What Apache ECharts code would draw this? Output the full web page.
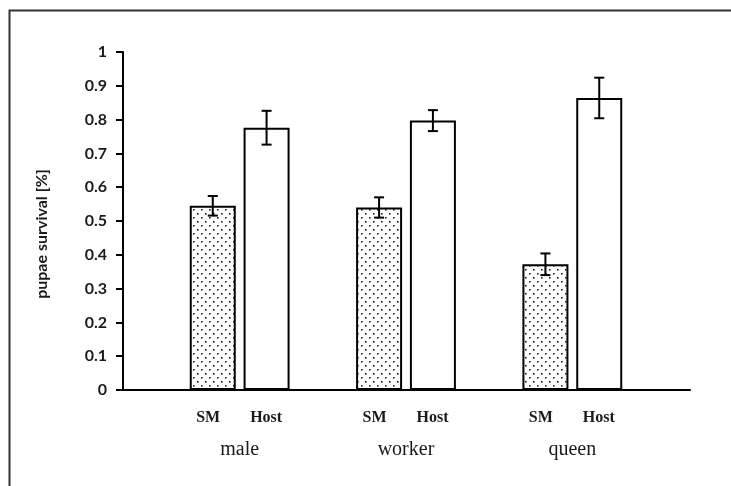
<!DOCTYPE html>
<html>
<head>
<meta charset="utf-8">
<script src="https://cdn.jsdelivr.net/npm/echarts@6/dist/echarts.min.js"></script>
<style>
  html, body { margin: 0; padding: 0; background: #fff; }
  #main { width: 731px; height: 486px; }
</style>
</head>
<body>
<div id="main"></div>
<script>
// data
var categories = ['male', 'worker', 'queen'];
var barNames = ['SM', 'Host'];
var smValues = [0.545, 0.54, 0.372];
var smErrors = [0.029, 0.03, 0.032];
var hostValues = [0.776, 0.797, 0.864];
var hostErrors = [0.05, 0.031, 0.06];

var dom = document.getElementById('main');
var chart = echarts.init(dom);

// dotted fill for the SM bars
var tile = document.createElement('canvas');
tile.width = 8;
tile.height = 8;
var ctx = tile.getContext('2d');
ctx.fillStyle = '#fff';
ctx.fillRect(0, 0, 8, 8);
ctx.fillStyle = '#222';
ctx.fillRect(1, 1, 1.6, 1.6);
ctx.fillRect(5, 5, 1.6, 1.6);

var barW = 46;
var gap = 0.17;
var shift = barW * (1 + gap) / 2;

function errRender(offset) {
  return function (params, api) {
    var idx = api.value(0);
    var v = api.value(1);
    var e = api.value(2);
    var hi = api.coord([idx, v + e]);
    var lo = api.coord([idx, v - e]);
    var x = hi[0] + offset;
    var st = { stroke: '#000', lineWidth: 2 };
    return {
      type: 'group',
      children: [
        { type: 'line', shape: { x1: x, y1: hi[1], x2: x, y2: lo[1] }, style: st },
        { type: 'line', shape: { x1: x - 5, y1: hi[1], x2: x + 5, y2: hi[1] }, style: st },
        { type: 'line', shape: { x1: x - 5, y1: lo[1], x2: x + 5, y2: lo[1] }, style: st }
      ]
    };
  };
}

function errData(vals, errs) {
  return categories.map(function (c, i) { return [i, vals[i], errs[i]]; });
}

chart.setOption({
  animation: false,
  backgroundColor: '#fff',
  grid: [
    { left: 156.5, right: 75.5, top: 52, bottom: 96, outerBoundsMode: 'none' },
    { left: 123, right: 41, top: 52, bottom: 96, outerBoundsMode: 'none' }
  ],
  xAxis: [
    { //SM / Host labels
      type: 'category', gridIndex: 0, position: 'bottom', data: categories,
      axisLine: { show: false }, axisTick: { show: false },
      axisLabel: {
        margin: 19,
        formatter: function () { return '{s|' + barNames[0] + '}{h|' + barNames[1] + '}'; },
        rich: {
          s: { width: 53, align: 'center', fontFamily: 'Liberation Serif', fontWeight: 'bold', fontSize: 16, lineHeight: 18, color: '#1a1a1a' },
          h: { width: 63, align: 'center', fontFamily: 'Liberation Serif', fontWeight: 'bold', fontSize: 16, lineHeight: 18, color: '#1a1a1a' }
        }
      }
    },
    { //group names
      type: 'category', gridIndex: 0, position: 'bottom', data: categories,
      axisLine: { show: false }, axisTick: { show: false },
      axisLabel: { margin: 48, fontFamily: 'Liberation Serif', fontSize: 20, lineHeight: 24, color: '#1a1a1a' }
    },
    { //zero line running past the bars
      type: 'value', gridIndex: 1, min: 0, max: 1,
      axisLine: { show: true, lineStyle: { color: '#000', width: 2 } },
      axisTick: { show: false }, axisLabel: { show: false }, splitLine: { show: false }
    }
  ],
  yAxis: [
    { type: 'value', gridIndex: 0, min: 0, max: 1, show: false },
    {
      type: 'value', gridIndex: 1, min: 0, max: 1, interval: 0.1,
      name: 'pupae survival [%]', nameLocation: 'middle', nameGap: 73, nameRotate: 90,
      nameTextStyle: { fontFamily: 'Lato', fontWeight: 'bold', fontSize: 16, color: '#1a1a1a', padding: [0, 26, 0, 0] },
      axisLine: { show: true, lineStyle: { color: '#000', width: 2 } },
      axisTick: { show: true, length: 7, lineStyle: { color: '#000', width: 2 } },
      splitLine: { show: false },
      axisLabel: {
        margin: 16, fontFamily: 'Lato', fontWeight: 'bold', fontSize: 16, color: '#1a1a1a',
        formatter: function (v) { return String(Math.round(v * 10) / 10); }
      }
    }
  ],
  series: [
    {
      name: 'SM', type: 'bar', xAxisIndex: 0, yAxisIndex: 0,
      data: smValues, barWidth: barW, barGap: (gap * 100) + '%',
      itemStyle: { color: { image: tile, repeat: 'repeat' }, borderColor: '#000', borderWidth: 2 }
    },
    {
      name: 'Host', type: 'bar', xAxisIndex: 0, yAxisIndex: 0,
      data: hostValues, barWidth: barW, barGap: (gap * 100) + '%',
      itemStyle: { color: '#fff', borderColor: '#000', borderWidth: 2 }
    },
    {
      type: 'custom', xAxisIndex: 0, yAxisIndex: 0, z: 5,
      renderItem: errRender(-shift), data: errData(smValues, smErrors)
    },
    {
      type: 'custom', xAxisIndex: 0, yAxisIndex: 0, z: 5,
      renderItem: errRender(shift), data: errData(hostValues, hostErrors)
    }
  ],
  graphic: [
    { //frame around the figure, cut off at right and bottom
      type: 'rect', left: 7, top: 8, z: 0,
      shape: { width: 760, height: 520 },
      style: { fill: 'none', stroke: '#333', lineWidth: 2 }
    }
  ]
});
</script>
</body>
</html>
